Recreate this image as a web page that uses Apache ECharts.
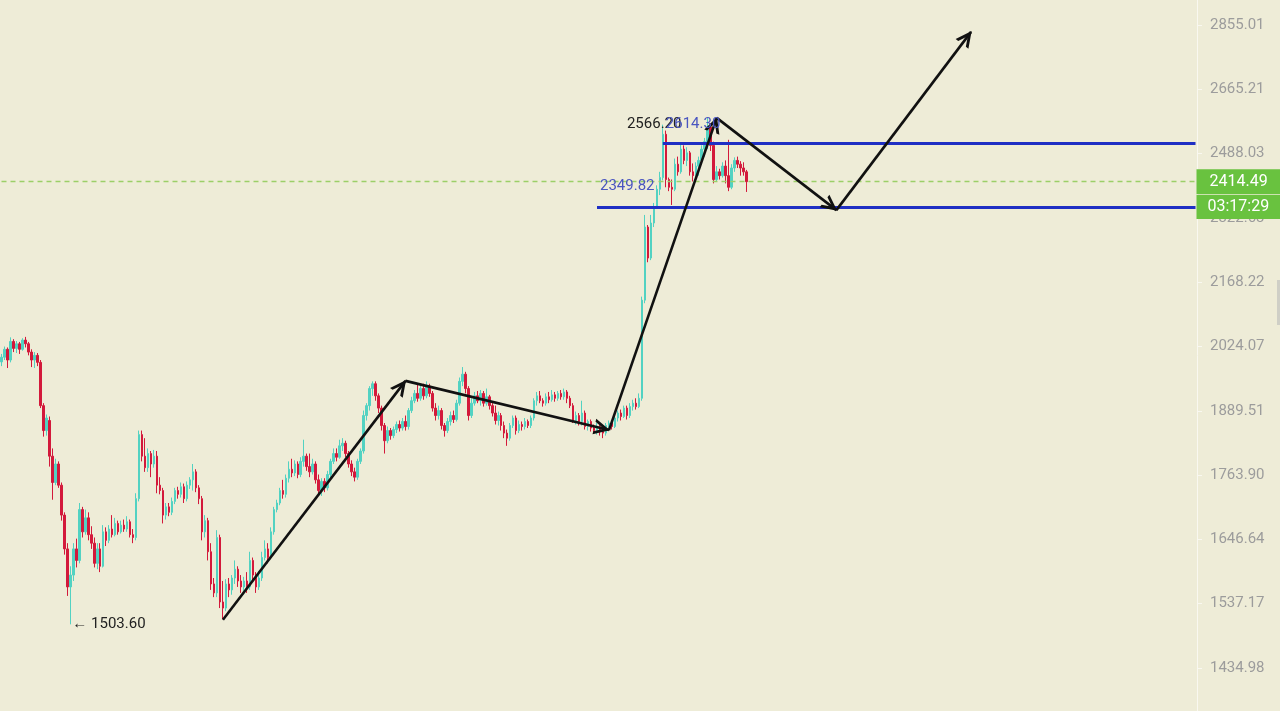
<!DOCTYPE html>
<html>
<head>
<meta charset="utf-8">
<script src="https://cdn.jsdelivr.net/npm/echarts@6/dist/echarts.min.js"></script>
<style>
html,body{margin:0;padding:0;background:#eeecd7;}
#chart{width:1280px;height:711px;}
</style>
</head>
<body>
<div id="chart"></div>
<script>
// ---- candles: [open, close, low, high] ----
const declineCandles = [
  [1991,2001,1982,2008],[2001,2018,1995,2024],[2018,1995,1978,2022],[1995,2035,1990,2044],
  [2035,2020,2012,2040],[2020,2030,2010,2036],[2030,2018,2008,2034],[2018,2038,2015,2042],
  [2038,2030,2022,2045],[2030,2012,2005,2034],[2012,1995,1980,2018],[1995,2005,1978,2012],
  [2005,1990,1982,2010],[1990,1900,1895,1995],[1900,1850,1838,1905],[1850,1875,1840,1882],
  [1870,1800,1780,1878],[1800,1750,1718,1815],[1750,1785,1745,1795],[1785,1745,1740,1790],
  [1745,1690,1680,1750],[1690,1630,1620,1695],[1630,1565,1550,1640],[1565,1585,1503.6,1600]
];
const baseCandles = [
  [1585,1630,1575,1640],[1630,1610,1598,1648],[1610,1700,1605,1712],[1700,1660,1650,1705],
  [1660,1685,1655,1700],[1685,1655,1645,1695],[1655,1640,1630,1670],[1640,1605,1598,1650],
  [1605,1630,1595,1640],[1630,1600,1590,1640],[1600,1660,1598,1672],[1660,1645,1635,1668],
  [1645,1665,1640,1672],[1665,1655,1650,1690],[1655,1675,1652,1685],[1675,1660,1655,1680],
  [1660,1672,1657,1680],[1672,1665,1660,1682],[1665,1678,1660,1688],[1678,1655,1650,1682],
  [1655,1650,1640,1665],[1650,1720,1645,1730],[1720,1842,1715,1850],[1842,1800,1790,1850],
  [1800,1778,1770,1835],[1778,1805,1770,1815],[1805,1785,1760,1810],[1785,1800,1778,1812],
  [1800,1745,1730,1810],[1745,1735,1728,1760],[1735,1690,1675,1740],[1690,1705,1682,1712],
  [1705,1695,1688,1712],[1695,1715,1690,1722],[1715,1735,1710,1740],[1735,1728,1720,1742],
  [1728,1742,1722,1750],[1742,1720,1712,1748],[1720,1745,1715,1752],[1745,1755,1738,1760],
  [1755,1770,1735,1785],[1770,1740,1732,1775],[1740,1720,1710,1745],[1720,1660,1645,1725],
  [1660,1680,1650,1690],[1680,1625,1610,1685],[1625,1570,1560,1640],[1570,1555,1548,1580],
  [1555,1650,1548,1663],[1650,1540,1530,1655],[1540,1530,1512,1575]
];
const rallyCandles = [
  [1530,1570,1525,1578],[1570,1560,1548,1580],[1560,1580,1552,1585],[1580,1595,1570,1610],
  [1595,1575,1565,1600],[1575,1565,1555,1585],[1565,1575,1552,1582],[1575,1565,1555,1590],
  [1565,1610,1560,1625],[1610,1585,1575,1615],[1585,1565,1555,1590],[1565,1580,1560,1592],
  [1580,1615,1575,1625],[1615,1630,1610,1645],[1630,1615,1605,1640],[1615,1660,1612,1668],
  [1660,1700,1655,1705],[1700,1712,1695,1718],[1712,1735,1708,1740],[1735,1728,1720,1755],
  [1728,1758,1722,1765],[1758,1775,1750,1790],[1775,1768,1760,1795],[1768,1785,1762,1792],
  [1785,1765,1758,1790],[1765,1790,1760,1798],[1790,1800,1780,1832],[1800,1780,1772,1805],
  [1780,1770,1760,1805],[1770,1785,1765,1795],[1785,1755,1748,1790],[1755,1735,1728,1765],
  [1735,1752,1725,1758],[1752,1740,1732,1758],[1740,1765,1735,1772],[1765,1790,1760,1795],
  [1790,1805,1785,1815],[1805,1798,1790,1815],[1798,1820,1795,1832],[1820,1825,1810,1835],
  [1825,1805,1798,1830],[1805,1785,1778,1810],[1785,1770,1762,1792],[1770,1760,1752,1778],
  [1760,1790,1755,1795],[1790,1810,1785,1815],[1810,1880,1805,1890],[1880,1900,1870,1905],
  [1900,1935,1890,1940],[1935,1945,1920,1950]
];
const driftCandles = [
  [1945,1920,1910,1950],[1920,1895,1885,1925],[1895,1860,1850,1900],[1860,1830,1805,1865],
  [1830,1850,1825,1858],[1850,1840,1832,1855],[1840,1852,1835,1858],[1852,1862,1845,1868],
  [1862,1855,1848,1870],[1855,1868,1850,1875],[1868,1858,1850,1880],[1858,1890,1852,1895],
  [1890,1910,1885,1918],[1910,1925,1905,1932],[1925,1915,1908,1945],[1915,1935,1910,1942],
  [1935,1920,1912,1945],[1920,1940,1915,1950],[1940,1925,1918,1945],[1925,1895,1888,1930],
  [1895,1880,1870,1905],[1880,1890,1872,1900],[1890,1860,1852,1895],[1860,1850,1838,1865],
  [1850,1868,1845,1875],[1868,1880,1860,1888],[1880,1872,1865,1890],[1872,1905,1868,1912],
  [1905,1950,1900,1958],[1950,1965,1940,1980],[1965,1935,1925,1970],[1935,1880,1870,1940],
  [1880,1905,1875,1915],[1905,1920,1900,1928],[1920,1910,1905,1930],[1910,1925,1900,1932],
  [1925,1905,1898,1930],[1905,1918,1900,1935],[1918,1900,1892,1922],[1900,1885,1878,1905],
  [1885,1870,1862,1900],[1870,1880,1860,1888],[1880,1860,1850,1885],[1860,1845,1835,1868],
  [1845,1835,1820,1852],[1835,1860,1830,1865],[1860,1875,1855,1880],[1875,1850,1842,1880],
  [1850,1862,1845,1870],[1862,1858,1850,1868],[1858,1868,1852,1875],[1868,1860,1855,1872],
  [1860,1875,1855,1880],[1875,1910,1870,1915],[1910,1920,1900,1928],[1920,1910,1905,1930],
  [1910,1905,1898,1915],[1905,1918,1900,1925],[1918,1912,1905,1928],[1912,1922,1908,1932],
  [1922,1915,1908,1928],[1915,1925,1910,1930],[1925,1918,1912,1932],[1918,1928,1912,1935],
  [1928,1915,1905,1932],[1915,1900,1895,1920],[1900,1870,1865,1905],[1870,1880,1862,1888],
  [1880,1868,1860,1885],[1868,1885,1860,1910],[1885,1858,1852,1890],[1858,1868,1850,1872],
  [1868,1855,1848,1872],[1855,1850,1845,1862],[1850,1858,1842,1865],[1858,1848,1840,1862],
  [1848,1845,1835,1858],[1845,1860,1840,1865],[1860,1865,1852,1870],[1865,1858,1852,1870],
  [1858,1875,1855,1880],[1875,1885,1868,1890],[1885,1878,1870,1892],[1878,1895,1875,1900],
  [1895,1880,1872,1900],[1880,1898,1875,1905],[1898,1905,1890,1912],[1905,1898,1892,1915],
  [1898,1915,1895,1925]
];
const breakoutCandles = [
  [1915,2127,1910,2135],[2127,2300,2120,2330],[2300,2225,2215,2305],[2225,2310,2220,2330],
  [2310,2350,2300,2360],[2350,2395,2345,2405],[2395,2425,2380,2440],[2425,2540,2418,2566.2],
  [2540,2420,2400,2550],[2420,2400,2390,2425],[2400,2395,2355,2420],[2395,2460,2390,2475],
  [2460,2440,2430,2480],[2440,2500,2435,2515],[2500,2470,2460,2510],[2470,2490,2455,2505],
  [2490,2440,2430,2495],[2440,2430,2415,2462],[2430,2455,2420,2465],[2455,2470,2430,2480],
  [2470,2500,2460,2510],[2500,2520,2480,2530],[2520,2560,2500,2585],[2560,2510,2495,2570],
  [2510,2420,2410,2520],[2420,2440,2415,2455],[2440,2430,2420,2448],[2430,2455,2425,2465],
  [2455,2430,2410,2470],[2430,2400,2390,2525],[2400,2450,2395,2460],[2450,2470,2440,2478],
  [2470,2460,2450,2480],[2460,2450,2430,2468],[2450,2440,2430,2465],[2440,2414.49,2388,2445]
];

// ---- axis ticks ----
const tickLabels = [1434.98, 1537.17, 1646.64, 1763.90, 1889.51, 2024.07, 2168.22, 2322.63, 2488.03, 2665.21, 2855.01];

// ---- drawing annotations: [candle slot index, price] ----
const arrowPath = [[74,1511],[135,1951],[203,1851],[239,2585],[279,2342],[324,2834]];
const resistanceLevel = 2516.6;
const supportLevel = 2349.82;
const lastPrice = 2414.49;
const countdownText = '03:17:29';
const lowMark = { slot: 23, price: 1503.60, text: '\u2190 1503.60' };
const highMarkA = { slot: 209, price: 2566.20, text: '2566.20' };
const highMarkB = { slot: 222, price: 2566.20, text: '2614.30' };
const supportTag = { slot: 200, price: 2403, text: '2349.82' };
const slotCount = 400;

const candles = [].concat(declineCandles, baseCandles, rallyCandles, driftCandles, breakoutCandles);
const categories = [];
for (let i = 0; i < slotCount; i++) categories.push('T' + (i + 1));

const chevron = 'path://M0,14 L7,0 L14,14 L11.2,14 L7,5.6 L2.8,14 Z';
const arrowLines = [];
for (let i = 1; i < arrowPath.length; i++) {
  arrowLines.push([
    { coord: arrowPath[i - 1], symbol: 'none',
      lineStyle: { color: '#111111', width: 2.6, type: 'solid' }, label: { show: false } },
    { coord: arrowPath[i], symbol: chevron, symbolSize: 16, symbolOffset: [0, 7] }
  ]);
}

const FONT = 'Roboto';
const greenBox = {
  show: true, position: 'end', distance: 1,
  backgroundColor: '#69c23f', color: '#ffffff', fontSize: 16, fontFamily: FONT,
  lineHeight: 17
};

const chart = echarts.init(document.getElementById('chart'), null, { renderer: 'canvas' });
chart.setOption({
  animation: false,
  backgroundColor: '#eeecd7',
  grid: { left: 0, right: 83, top: 0, bottom: 0 },
  xAxis: {
    type: 'category', data: categories, boundaryGap: true, show: false
  },
  yAxis: {
    type: 'log', logBase: 10, position: 'right',
    min: 1370.46, max: 2932.4, scale: true,
    splitLine: { show: false },
    axisLine: { show: true, lineStyle: { color: '#f9f8f0', width: 1 } },
    axisTick: { show: true, length: 5, lineStyle: { color: '#f9f8f0' }, customValues: tickLabels },
    axisLabel: {
      customValues: tickLabels, margin: 13, color: '#9c9c9c', fontSize: 15, fontFamily: FONT,
      formatter: function (v) { return Number(v).toFixed(2); }
    }
  },
  graphic: [
    { type: 'rect', right: 0, top: 280, shape: { width: 3, height: 45 }, style: { fill: '#cfcfc6' } }
  ],
  series: [{
    type: 'candlestick',
    data: candles,
    barWidth: 2,
    clip: false,
    itemStyle: {
      color: '#52d2c2', color0: '#d3193b',
      borderColor: '#52d2c2', borderColor0: '#d3193b', borderWidth: 1
    },
    markLine: {
      silent: true,
      animation: false,
      precision: 2,
      data: [
        [
          { coord: [0, lastPrice], symbol: 'none',
            lineStyle: { color: '#9ccf68', width: 1.4, type: [5, 4], opacity: 1 },
            label: Object.assign({}, greenBox, { formatter: lastPrice.toFixed(2), padding: [4, 14, 4, 13] }) },
          { coord: [slotCount - 1, lastPrice], symbol: 'none' }
        ],
        [
          { coord: [221, resistanceLevel], symbol: 'none',
            lineStyle: { color: '#1f2fc4', width: 3, type: 'solid' }, label: { show: false } },
          { coord: [slotCount - 1, resistanceLevel], symbol: 'none' }
        ],
        [
          { coord: [199, supportLevel], symbol: 'none',
            lineStyle: { color: '#1f2fc4', width: 3, type: 'solid' },
            label: Object.assign({}, greenBox, { formatter: countdownText, padding: [4, 11, 3, 11] }) },
          { coord: [slotCount - 1, supportLevel], symbol: 'none' }
        ]
      ].concat(arrowLines)
    },
    markPoint: {
      silent: true,
      symbol: 'circle', symbolSize: 0,
      itemStyle: { color: 'rgba(0,0,0,0)' },
      data: [
        { coord: [lowMark.slot, lowMark.price], label: { show: true, position: 'right', distance: 2, formatter: lowMark.text, color: '#222', fontSize: 15, fontFamily: FONT } },
        { coord: [highMarkA.slot, highMarkA.price], label: { show: true, position: 'right', distance: 0, formatter: highMarkA.text, color: '#222', fontSize: 15, fontFamily: FONT } },
        { coord: [highMarkB.slot, highMarkB.price], label: { show: true, position: 'right', distance: 0, formatter: highMarkB.text, color: '#4a56c0', fontSize: 15, fontFamily: FONT } },
        { coord: [supportTag.slot, supportTag.price], label: { show: true, position: 'right', distance: 0, formatter: supportTag.text, color: '#4a56c0', fontSize: 15, fontFamily: FONT } }
      ]
    }
  }]
});
</script>
</body>
</html>
